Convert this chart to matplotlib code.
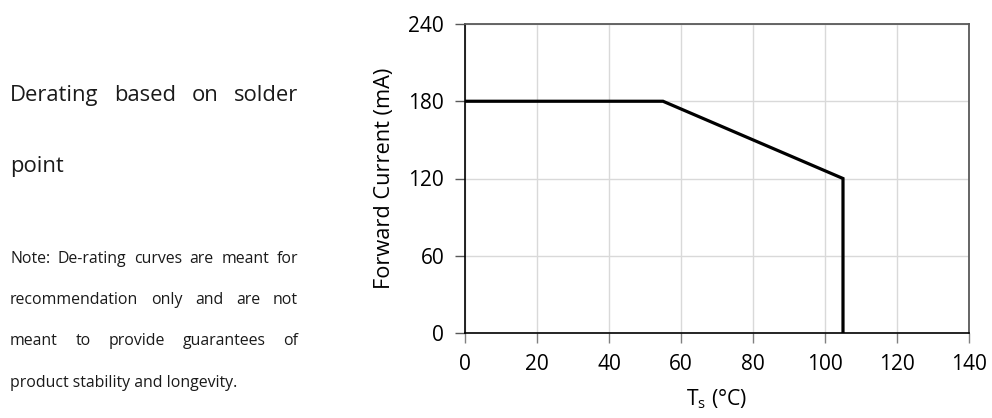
import matplotlib
matplotlib.use('Agg')
import matplotlib.pyplot as plt

plt.rcParams['font.family'] = ['Open Sans', 'DejaVu Sans']
plt.rcParams['mathtext.fontset'] = 'custom'
plt.rcParams['mathtext.rm'] = 'Open Sans'

# derating curve
temp_c = [0, 55, 105, 105]
current_ma = [180, 180, 120, 0]
x_ticks = [0, 20, 40, 60, 80, 100, 120, 140]
y_ticks = [0, 60, 120, 180, 240]

title_lines = ['Derating based on solder', 'point']
note_lines = ['Note: De-rating curves are meant for',
              'recommendation only and are not',
              'meant to provide guarantees of',
              'product stability and longevity.']

W, H = 992, 418
fig = plt.figure(figsize=(W / 100, H / 100), dpi=100)
ax = fig.add_axes([465 / W, 1 - 333 / H, (969 - 465) / W, (333 - 24) / H])

ax.plot(temp_c, current_ma, color='black', lw=2.3, solid_joinstyle='miter', zorder=3)
ax.set_xlim(0, 140)
ax.set_ylim(0, 240)
ax.set_xticks(x_ticks)
ax.set_yticks(y_ticks)
ax.grid(True, color='#d9d9d9', lw=1)
ax.set_axisbelow(True)
ax.tick_params(axis='x', direction='out', length=7, width=1, color='#808080',
               labelsize=15, pad=8)
ax.tick_params(axis='y', direction='out', length=7, width=1, color='#595959',
               labelsize=15, pad=8)
for s in ['left', 'bottom']:
    ax.spines[s].set_color('black')
    ax.spines[s].set_linewidth(1.2)
for s in ['top', 'right']:
    ax.spines[s].set_color('#595959')
    ax.spines[s].set_linewidth(1.3)
ax.set_ylabel('Forward Current (mA)', fontsize=15.7, labelpad=10)
ax.set_xlabel(r'T$_\mathrm{s}$ (°C)', fontsize=15.3, labelpad=9)

fig.canvas.draw()
renderer = fig.canvas.get_renderer()


def justified(line, y_px, size, x0=10, x1=298, justify=True):
    words = line.split(' ')
    y = 1 - y_px / H
    if not justify or len(words) == 1:
        fig.text(x0 / W, y, line, fontsize=size, va='baseline', ha='left', color='#1a1a1a')
        return
    arts = [fig.text(0, y, w, fontsize=size, va='baseline', ha='left', color='#1a1a1a')
            for w in words]
    widths = [a.get_window_extent(renderer).width for a in arts]
    gap = (x1 - x0 - sum(widths)) / (len(words) - 1)
    x = x0
    for a, w in zip(arts, widths):
        a.set_x(x / W)
        x += w + gap


justified(title_lines[0], 101, 15.8)
justified(title_lines[1], 172, 15.8, justify=False)
note_y = [263, 304, 345, 387]
for i, (line, yy) in enumerate(zip(note_lines, note_y)):
    justified(line, yy, 11.4, justify=i < len(note_lines) - 1)

fig.savefig('out.png', dpi=100)
